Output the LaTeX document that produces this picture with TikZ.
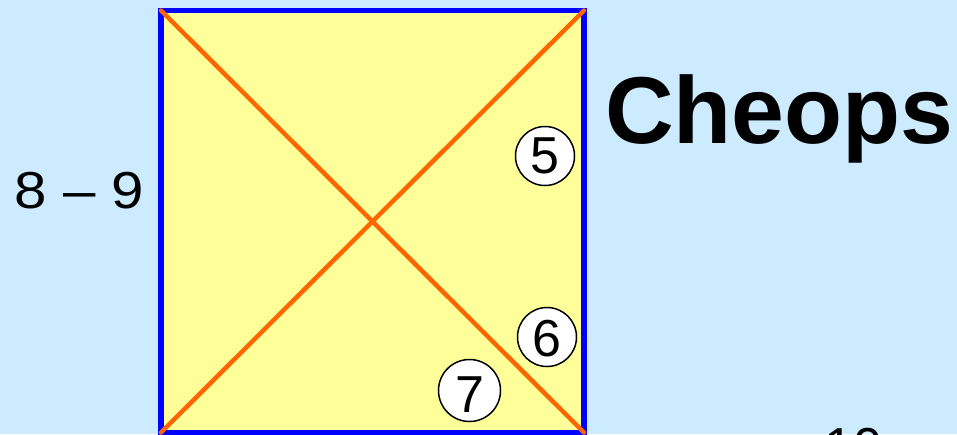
\documentclass[tikz,border=0pt]{standalone}
\usepackage{fontspec}
\setmainfont{Liberation Sans}
\definecolor{bgblue}{HTML}{CCEBFF}
\definecolor{sqyellow}{HTML}{FFFF99}
\definecolor{diagorange}{HTML}{FF6600}
\definecolor{edgeblue}{HTML}{0000FF}
\tikzset{
  numcircle/.style={circle, draw=black, fill=white, line width=1.5pt, minimum size=59pt, inner sep=0pt},
  digit/.style={font=\fontsize{52}{52}\selectfont, inner sep=0pt, anchor=base},
  diag/.style={draw=diagorange, line width=4.5pt, line cap=round},
  edge/.style={draw=edgeblue, line width=5.5pt}
}
\begin{document}
\begin{tikzpicture}[x=1pt,y=-1pt]
\path[use as bounding box, fill=bgblue] (0,0) rectangle (957,434);
\clip (0,0) rectangle (957,434);
\coordinate (tl) at (161,10.5);
\coordinate (tr) at (584,10.5);
\coordinate (br) at (584,432.5);
\coordinate (bl) at (161,432.5);
\fill[sqyellow] (tl) rectangle (br);
\draw[edge] (tl) -- (tr) -- (br) -- (bl) -- cycle;
\draw[diag] (tl) -- (br);
\draw[diag] (bl) -- (tr);
\node[numcircle] (c5) at (545,156) {};
\node[numcircle] (c6) at (547,337) {};
\node[numcircle, minimum size=62pt] (c7) at (469.5,390.5) {};
\node[digit] (n5) at (545,173) {5};
\node[digit] (n6) at (547,356) {6};
\node[digit] (n7) at (470,412) {7};
\node[digit] (range) at (79.5,208) {\scalebox{1.12}[1]{8 – 9}};
\node[font=\fontsize{95}{95}\selectfont\bfseries, inner sep=0pt, anchor=base] (title) at (779.5,143) {Cheops};
\node[digit, anchor=base west] (ten) at (824,464) {10};
\end{tikzpicture}
\end{document}
